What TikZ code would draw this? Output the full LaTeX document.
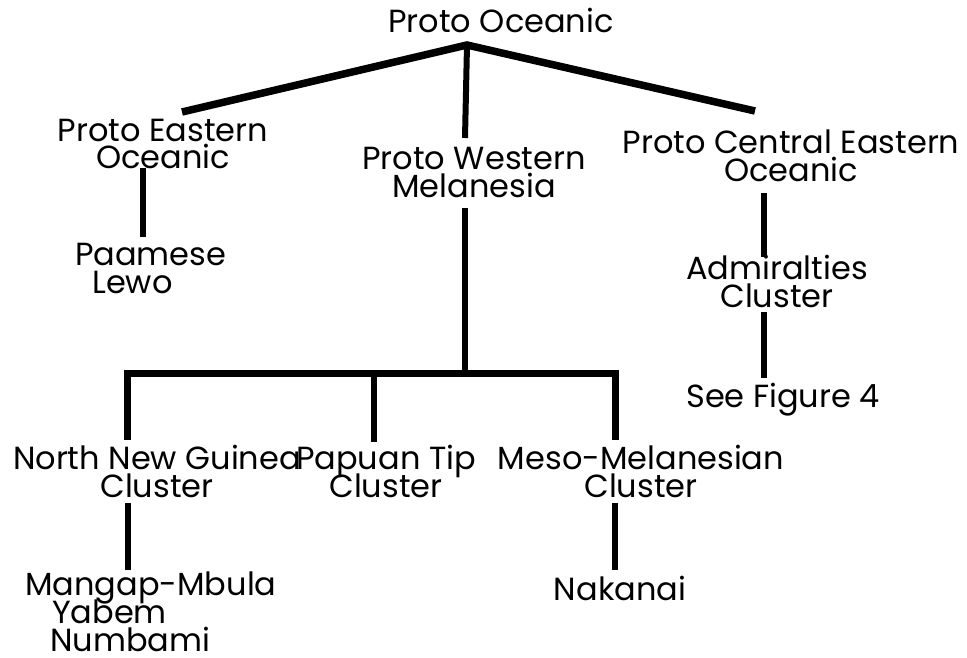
\documentclass[tikz,border=0pt]{standalone}
\usepackage{fontspec}
\setmainfont{Poppins}
\usepackage{tikz}
\usetikzlibrary{positioning}
\newcommand{\langfont}{\fontsize{32}{28}\selectfont\lineskiplimit=-100pt\relax\lineskip=0pt\relax}
\tikzset{
    lang/.style={
        font=\langfont,
        inner sep=0pt,
        align=center,
        anchor=base
    },
    langleft/.style={
        lang,
        align=left,
        anchor=base west
    },
    branch/.style={
        draw=black,
        line width=7.5pt
    },
    stem/.style={
        draw=black,
        line width=6pt
    },
    bar/.style={
        draw=black,
        line width=7pt,
        line join=miter
    }
}

\begin{document}
\begin{tikzpicture}[x=1pt, y=-1pt]

\useasboundingbox (0,0) rectangle (967,658);

% top level (base = last line)
\node[lang] (po) at (501,33) {Proto Oceanic};
\node[lang] (peo) at (163,169) {Proto Eastern\\Oceanic};
\node[lang] (pwm) at (474,197) {Proto Western\\Melanesia};
\node[lang] (pceo) at (791,182) {Proto Central Eastern\\Oceanic};

% second level
\node[langleft] (pl) at (75,293) {Paamese\\\hspace*{17pt}Lewo};
\node[lang] (adm) at (777,307) {Admiralties\\Cluster};
\node[lang] (fig) at (783,407) {See Figure 4};

% western clusters
\node[lang] (nng) at (157,497) {North New Guinea\\Cluster};
\node[lang] (ptc) at (386,497) {Papuan Tip\\Cluster};
\node[lang] (mmc) at (641,497) {Meso-Melanesian\\Cluster};

% languages
\node[langleft, text depth=0pt] (mmb) at (25,651) {Mangap-Mbula\\\hspace*{27pt}Yabem\\\hspace*{25pt}Numbami};
\node[lang] (nak) at (620,600) {Nakanai};

% junctions
\coordinate (apex) at (467,45);
\coordinate (lft) at (182,112);
\coordinate (rgt) at (755,111);
\coordinate (midend) at (465,138);
\coordinate (pwmtop) at (465,208);
\coordinate (barmid) at (465,373);
\coordinate (barl) at (127,373);
\coordinate (barr) at (615,373);
\coordinate (nngtop) at (127,440);
\coordinate (ptctop) at (374,442);
\coordinate (mmctop) at (615,440);

\draw[branch] (lft) -- (apex) -- (rgt);
\draw[stem] (apex) -- (midend);
\draw[stem] (pwmtop) -- (barmid);
\draw[bar] (nngtop) -- (barl) -- (barr) -- (mmctop);
\draw[stem] (ptctop |- barl) -- (ptctop);

\coordinate (peobot) at (143,168);
\coordinate (pltop) at (143,237);
\draw[stem] (peobot) -- (pltop);

\coordinate (pceobot) at (764,193);
\coordinate (admtop) at (764,257);
\draw[stem] (pceobot) -- (admtop);
\coordinate (admbot) at (764,312);
\coordinate (figtop) at (764,378);
\draw[stem] (admbot) -- (figtop);

\coordinate (nngbot) at (128,503);
\coordinate (mmbtop) at (128,570);
\draw[stem] (nngbot) -- (mmbtop);
\coordinate (mmcbot) at (615,503);
\coordinate (naktop) at (615,570);
\draw[stem] (mmcbot) -- (naktop);

\end{tikzpicture}
\end{document}
